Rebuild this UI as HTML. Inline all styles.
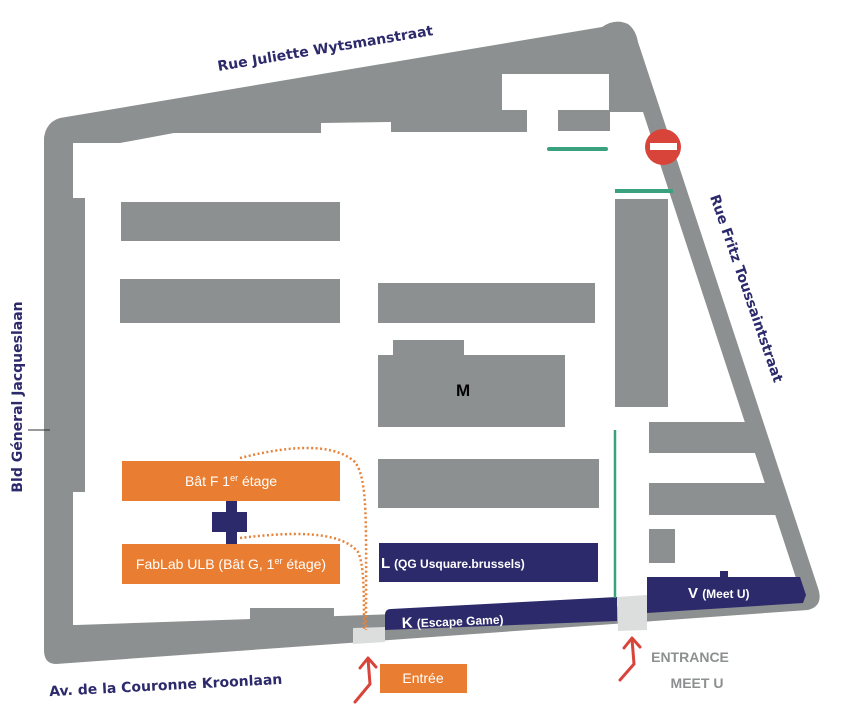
<!DOCTYPE html>
<html><head><meta charset="utf-8"><style>
html,body{margin:0;padding:0;background:#fff;}
svg{display:block;}
.st{font-family:"DejaVu Sans","Liberation Sans",sans-serif;font-weight:bold;fill:#2c2a6b;font-size:14px;}
.bl{font-family:"Liberation Sans Narrow","Liberation Sans",sans-serif;fill:#fff;font-size:14px;}
</style></head><body>
<svg width="848" height="711" viewBox="0 0 848 711" xmlns="http://www.w3.org/2000/svg">
<path d="M60,118 L602,27 Q615,18 628,24 Q636,30 638,42 L818,588 Q824,606 808,610 L56,664 Q44,664 44,650 L44,138 Q46,122 60,118 Z" fill="#8d9090"/>
<polygon fill="#fff" points="73,143 120,143 174,133 321,133 321,123 391,122 391,132 527,132 527,110 502,110 502,74 609,74 609,112 643,112 795,575 803,600 76,625 73,625 73,492 85,492 85,198 73,198"/>
<rect x="81" y="127" width="39" height="16" fill="#8d9090"/>
<rect x="558" y="110" width="52" height="21" fill="#8d9090"/>
<rect x="250" y="608" width="84" height="19" fill="#8d9090"/>
<rect x="121" y="202" width="219" height="39" fill="#8d9090"/>
<rect x="120" y="279" width="220" height="44" fill="#8d9090"/>
<rect x="378" y="283" width="217" height="40" fill="#8d9090"/>
<rect x="378" y="355" width="187" height="72" fill="#8d9090"/>
<rect x="393" y="340" width="71" height="16" fill="#8d9090"/>
<rect x="615" y="199" width="53" height="208" fill="#8d9090"/>
<rect x="378" y="459" width="221" height="49" fill="#8d9090"/>
<polygon points="649,422 758,422 768,453 649,453" fill="#8d9090"/>
<polygon points="649,483 775,483 785,515 649,515" fill="#8d9090"/>
<rect x="649" y="529" width="26" height="34" fill="#8d9090"/>
<rect x="379" y="543" width="219" height="39" fill="#2c2a6b"/>
<path d="M385,615 Q385,609 391,609 L617,597 L617,621 L385,630 Z" fill="#2c2a6b"/>
<polygon points="647,577 720,577 720,571 728,571 728,577 800,577 806,595 803,603 647,613" fill="#2c2a6b"/>
<polygon points="353,628 385,627 385,642 353,644" fill="#dcdddd"/>
<polygon points="617,597 647,595 647,630 618,631" fill="#dcdddd"/>
<line x1="549" y1="149" x2="606" y2="149" stroke="#3aa17e" stroke-width="4" stroke-linecap="round"/>
<line x1="615" y1="191" x2="673" y2="191" stroke="#3aa17e" stroke-width="4"/>
<line x1="615" y1="430" x2="615" y2="598" stroke="#3aa17e" stroke-width="2.5"/>
<circle cx="663" cy="147" r="18" fill="#d9443a"/>
<rect x="650" y="143" width="27" height="7" fill="#fff"/>
<rect x="122" y="461" width="218" height="40" fill="#e97e32"/>
<rect x="122" y="544" width="218" height="40" fill="#e97e32"/>
<rect x="226" y="501" width="11" height="43" fill="#2c2a6b"/>
<rect x="212" y="512" width="35" height="20" fill="#2c2a6b"/>
<text class="bl" x="231" y="486" text-anchor="middle">Bât F 1<tspan font-size="9" dy="-5">er</tspan><tspan dy="5"> étage</tspan></text>
<text class="bl" x="231" y="569" text-anchor="middle">FabLab ULB (Bât G, 1<tspan font-size="9" dy="-5">er</tspan><tspan dy="5"> étage)</tspan></text>
<path d="M240,458 C280,448 330,440 355,462 C368,480 366,520 366,630" fill="none" stroke="#e5833b" stroke-width="2.5" stroke-dasharray="2,2.5"/>
<path d="M240,538 C290,532 340,530 358,552 C364,565 364,590 364,630" fill="none" stroke="#e5833b" stroke-width="2.5" stroke-dasharray="2,2.5"/>
<rect x="380" y="664" width="87" height="29" fill="#e97e32"/>
<text class="bl" x="423" y="683" text-anchor="middle" font-size="14">Entrée</text>
<g stroke="#d9443a" stroke-width="3" fill="none" stroke-linecap="round" stroke-linejoin="round">
<polyline points="355,702 370,684 368,659"/>
<polyline points="360,668 368,658 376,667"/>
<polyline points="620,680 634,664 632,639"/>
<polyline points="624,648 632,638 640,647"/>
</g>
<text x="690" y="662" text-anchor="middle" font-family="Liberation Sans Narrow,Liberation Sans,sans-serif" font-weight="bold" font-size="14" fill="#8d9090">ENTRANCE</text>
<text x="697" y="688" text-anchor="middle" font-family="Liberation Sans Narrow,Liberation Sans,sans-serif" font-weight="bold" font-size="14" fill="#8d9090">MEET U</text>
<text x="381" y="568" font-family="Liberation Sans,sans-serif" font-weight="bold" fill="#fff" font-size="15">L <tspan font-size="12">(QG Usquare.brussels)</tspan></text>
<text x="402" y="628" font-family="Liberation Sans,sans-serif" font-weight="bold" fill="#fff" font-size="15" transform="rotate(-2.5 402 628)">K <tspan font-size="12">(Escape Game)</tspan></text>
<text x="688" y="598" font-family="Liberation Sans,sans-serif" font-weight="bold" fill="#fff" font-size="15">V <tspan font-size="12">(Meet U)</tspan></text>
<text x="456" y="396" font-family="Liberation Sans,sans-serif" font-weight="bold" fill="#000" font-size="17">M</text>
<text class="st" x="326" y="53" text-anchor="middle" transform="rotate(-9.5 326 53)">Rue Juliette Wytsmanstraat</text>
<text class="st" x="742" y="290" text-anchor="middle" transform="rotate(71 742 290)">Rue Fritz Toussaintstraat</text>
<text class="st" x="22" y="397" text-anchor="middle" transform="rotate(-90 22 397)">Bld Géneral Jacqueslaan</text>
<text class="st" x="166" y="690" text-anchor="middle" transform="rotate(-3 166 690)">Av. de la Couronne Kroonlaan</text>
<line x1="28" y1="430" x2="50" y2="430" stroke="#333" stroke-width="1"/>
</svg>
</body></html>
